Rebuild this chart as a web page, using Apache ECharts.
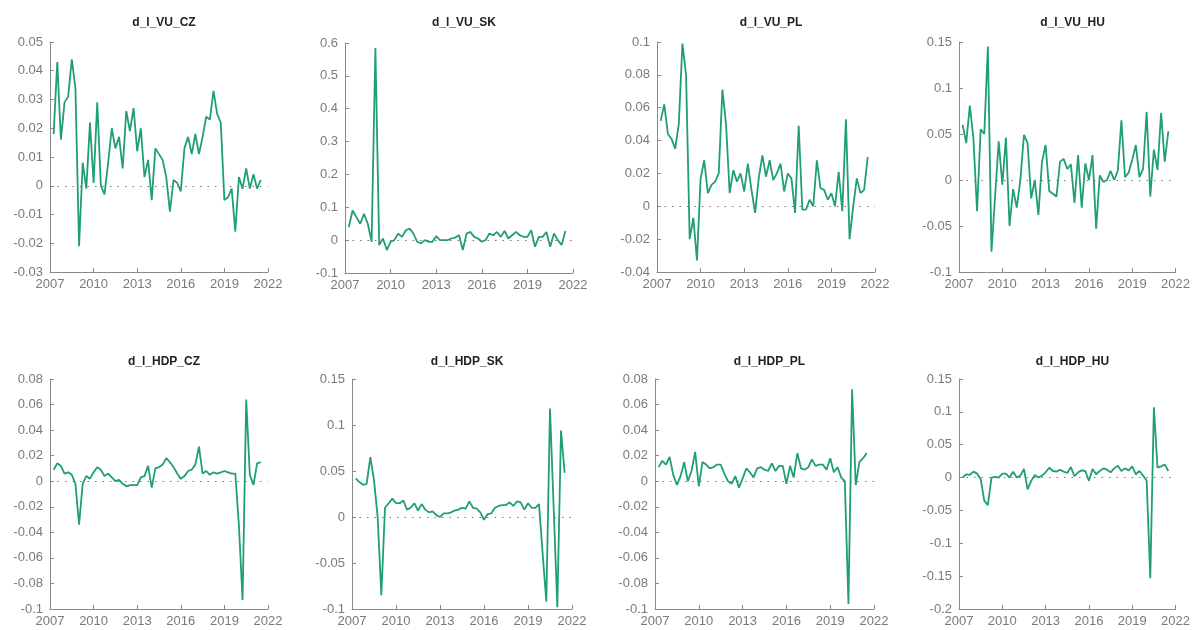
<!DOCTYPE html>
<html>
<head>
<meta charset="utf-8">
<script src="https://cdn.jsdelivr.net/npm/echarts@6/dist/echarts.min.js"></script>
<style>
  html, body { margin: 0; padding: 0; background: #fff; }
  #main { width: 1193px; height: 630px; }
</style>
</head>
<body>
<div id="main"></div>
<script>
// quarterly series, 2007Q2 .. 2021Q3 (58 obs)
var startYear = 2007.25;
var nObs = 58;

var titles = ['d_l_VU_CZ', 'd_l_VU_SK', 'd_l_VU_PL', 'd_l_VU_HU',
              'd_l_HDP_CZ', 'd_l_HDP_SK', 'd_l_HDP_PL', 'd_l_HDP_HU'];

var vuCZ = [0.018, 0.043, 0.016, 0.029, 0.031, 0.044, 0.034, -0.021, 0.008, -0.001,
            0.022, 0.001, 0.029, 0.000, -0.003, 0.008, 0.020, 0.013, 0.017, 0.006,
            0.026, 0.019, 0.027, 0.012, 0.020, 0.003, 0.009, -0.005, 0.013, 0.011,
            0.009, 0.003, -0.009, 0.002, 0.001, -0.002, 0.013, 0.017, 0.011, 0.018,
            0.011, 0.017, 0.024, 0.023, 0.033, 0.025, 0.022, -0.005, -0.004, -0.001,
            -0.016, 0.003, -0.001, 0.006, -0.001, 0.004, -0.001, 0.002];

var vuSK = [0.04, 0.09, 0.07, 0.05, 0.08, 0.05, -0.005, 0.585, -0.015, 0.005,
            -0.03, -0.005, 0.0, 0.02, 0.01, 0.03, 0.035, 0.02, -0.005, -0.01,
            0.0, -0.005, -0.005, 0.012, 0.0, 0.0, 0.0, 0.005, 0.008, 0.015,
            -0.03, 0.02, 0.025, 0.01, 0.005, -0.005, 0.0, 0.02, 0.015, 0.025,
            0.01, 0.028, 0.005, 0.015, 0.025, 0.015, 0.01, 0.01, 0.03, -0.02,
            0.01, 0.01, 0.025, -0.02, 0.02, 0.0, -0.015, 0.028];

var vuPL = [0.052, 0.062, 0.044, 0.041, 0.035, 0.05, 0.099, 0.08, -0.02, -0.007,
            -0.033, 0.017, 0.028, 0.008, 0.013, 0.015, 0.02, 0.071, 0.05, 0.008,
            0.022, 0.015, 0.02, 0.009, 0.026, 0.01, -0.004, 0.017, 0.031, 0.018,
            0.028, 0.016, 0.02, 0.026, 0.009, 0.02, 0.017, -0.004, 0.049, -0.002,
            -0.002, 0.004, 0.0, 0.028, 0.011, 0.01, 0.004, 0.008, 0.0, 0.021,
            -0.003, 0.053, -0.02, 0.0, 0.017, 0.008, 0.01, 0.03];

var vuHU = [0.06, 0.04, 0.081, 0.045, -0.034, 0.055, 0.05, 0.145, -0.078, -0.018,
            0.042, -0.005, 0.046, -0.05, -0.01, -0.03, 0.0, 0.049, 0.04, -0.02,
            0.0, -0.038, 0.02, 0.038, -0.012, -0.015, -0.018, 0.02, 0.023, 0.012,
            0.017, -0.025, 0.027, -0.03, 0.018, 0.0, 0.027, -0.053, 0.005, -0.002,
            0.0, 0.01, 0.0, 0.01, 0.065, 0.003, 0.008, 0.022, 0.038, 0.003,
            0.012, 0.074, -0.018, 0.033, 0.011, 0.073, 0.02, 0.053];

var hdpCZ = [0.009, 0.014, 0.012, 0.006, 0.007, 0.005, -0.002, -0.034, -0.002, 0.004,
             0.002, 0.007, 0.011, 0.009, 0.004, 0.006, 0.003, 0.0, 0.001, -0.002,
             -0.004, -0.003, -0.003, -0.003, 0.003, 0.004, 0.012, -0.005, 0.01, 0.011,
             0.013, 0.018, 0.015, 0.011, 0.006, 0.002, 0.004, 0.008, 0.009, 0.013,
             0.027, 0.006, 0.008, 0.005, 0.007, 0.006, 0.007, 0.008, 0.007, 0.006,
             0.006, -0.035, -0.093, 0.064, 0.005, -0.003, 0.014, 0.015];

var hdpSK = [0.042, 0.038, 0.035, 0.036, 0.065, 0.04, 0.0, -0.085, 0.01, 0.015,
             0.02, 0.015, 0.015, 0.018, 0.008, 0.01, 0.015, 0.007, 0.014, 0.008,
             0.005, 0.006, 0.002, 0.0, 0.004, 0.004, 0.005, 0.007, 0.008, 0.01,
             0.009, 0.017, 0.01, 0.009, 0.005, -0.003, 0.003, 0.004, 0.01, 0.012,
             0.013, 0.013, 0.016, 0.012, 0.017, 0.016, 0.008, 0.015, 0.01, 0.01,
             0.014, -0.04, -0.092, 0.118, 0.01, -0.098, 0.094, 0.048];

var hdpPL = [0.011, 0.016, 0.013, 0.019, 0.005, -0.003, 0.004, 0.015, 0.0, 0.008,
             0.023, -0.004, 0.015, 0.013, 0.01, 0.011, 0.013, 0.013, 0.006, 0.0,
             -0.002, 0.004, -0.005, 0.002, 0.01, 0.007, 0.003, 0.01, 0.011, 0.009,
             0.008, 0.014, 0.008, 0.012, 0.012, -0.002, 0.012, 0.003, 0.022, 0.01,
             0.009, 0.011, 0.017, 0.012, 0.013, 0.013, 0.009, 0.018, 0.007, 0.011,
             0.003, 0.0, -0.096, 0.072, -0.003, 0.015, 0.018, 0.022];

var hdpHU = [0.0, 0.005, 0.004, 0.009, 0.006, -0.002, -0.035, -0.042, 0.0, 0.001,
             0.0, 0.006, 0.006, 0.0, 0.009, 0.0, 0.003, 0.013, -0.018, -0.005,
             0.004, 0.0, 0.003, 0.008, 0.015, 0.01, 0.009, 0.012, 0.009, 0.007,
             0.016, 0.002, 0.008, 0.011, 0.01, -0.005, 0.013, 0.005, 0.01, 0.014,
             0.012, 0.008, 0.014, 0.018, 0.01, 0.014, 0.011, 0.017, 0.005, 0.01,
             0.003, -0.005, -0.153, 0.107, 0.015, 0.017, 0.02, 0.01];

var seriesData = [vuCZ, vuSK, vuPL, vuHU, hdpCZ, hdpSK, hdpPL, hdpHU];

// y axis ranges per panel
var yMin = [-0.03, -0.1, -0.04, -0.1, -0.1, -0.1, -0.1, -0.2];
var yMax = [0.05, 0.6, 0.1, 0.15, 0.08, 0.15, 0.08, 0.15];
var yStep = [0.01, 0.1, 0.02, 0.05, 0.02, 0.05, 0.02, 0.05];

// panel boxes (px)
var boxes = [
  {left: 50,  top: 42,  width: 218, height: 230},
  {left: 345, top: 43,  width: 228, height: 230},
  {left: 657, top: 42,  width: 218, height: 230},
  {left: 959, top: 42,  width: 217, height: 230},
  {left: 50,  top: 379, width: 218, height: 230},
  {left: 352, top: 379, width: 220, height: 230},
  {left: 655, top: 379, width: 219, height: 230},
  {left: 959, top: 379, width: 217, height: 230}
];

var lineColor = '#1f9e77';
var axisGray = '#8a8a8a';
var labelGray = '#7a7a7a';
var fontFam = "'Liberation Sans', Arial, sans-serif";

function fmt(v) {
  return String(+(+v).toFixed(4));
}

var option = {
  backgroundColor: '#fff',
  animation: false,
  title: [],
  grid: [],
  xAxis: [],
  yAxis: [],
  series: []
};

for (var k = 0; k < 8; k++) {
  var b = boxes[k];
  option.grid.push({left: b.left, top: b.top, width: b.width, height: b.height});
  option.title.push({
    text: titles[k],
    left: b.left + b.width / 2,
    top: k < 4 ? 12 : 351,
    textAlign: 'center',
    textStyle: {fontSize: 12, fontWeight: 'bold', color: '#222', fontFamily: fontFam}
  });
  option.xAxis.push({
    type: 'value', gridIndex: k, min: 2007, max: 2022, interval: 3,
    axisLine: {show: true, onZero: false, lineStyle: {color: axisGray, width: 1}},
    axisTick: {show: true, inside: true, length: 4, lineStyle: {color: axisGray}},
    splitLine: {show: false},
    axisLabel: {color: labelGray, fontSize: 13, fontFamily: fontFam, margin: 6, formatter: fmt}
  });
  option.yAxis.push({
    type: 'value', gridIndex: k, min: yMin[k], max: yMax[k], interval: yStep[k],
    axisLine: {show: true, onZero: false, lineStyle: {color: axisGray, width: 1}},
    axisTick: {show: true, inside: true, length: 4, lineStyle: {color: axisGray}},
    splitLine: {show: false},
    axisLabel: {color: labelGray, fontSize: 13, fontFamily: fontFam, margin: 7, formatter: fmt}
  });
  var pts = seriesData[k].map(function (v, i) { return [startYear + 0.25 * i, v]; });
  option.series.push({
    type: 'line', xAxisIndex: k, yAxisIndex: k,
    data: pts, symbol: 'none', smooth: false,
    lineStyle: {color: lineColor, width: 1.8},
    markLine: {
      silent: true, symbol: 'none', label: {show: false},
      lineStyle: {color: '#777', width: 1, type: [1.5, 6]},
      data: [{yAxis: 0}]
    },
    z: 3
  });
}

var chart = echarts.init(document.getElementById('main'), null, {renderer: 'canvas'});
chart.setOption(option);
window.addEventListener('resize', function () { chart.resize(); });
</script>
</body>
</html>
